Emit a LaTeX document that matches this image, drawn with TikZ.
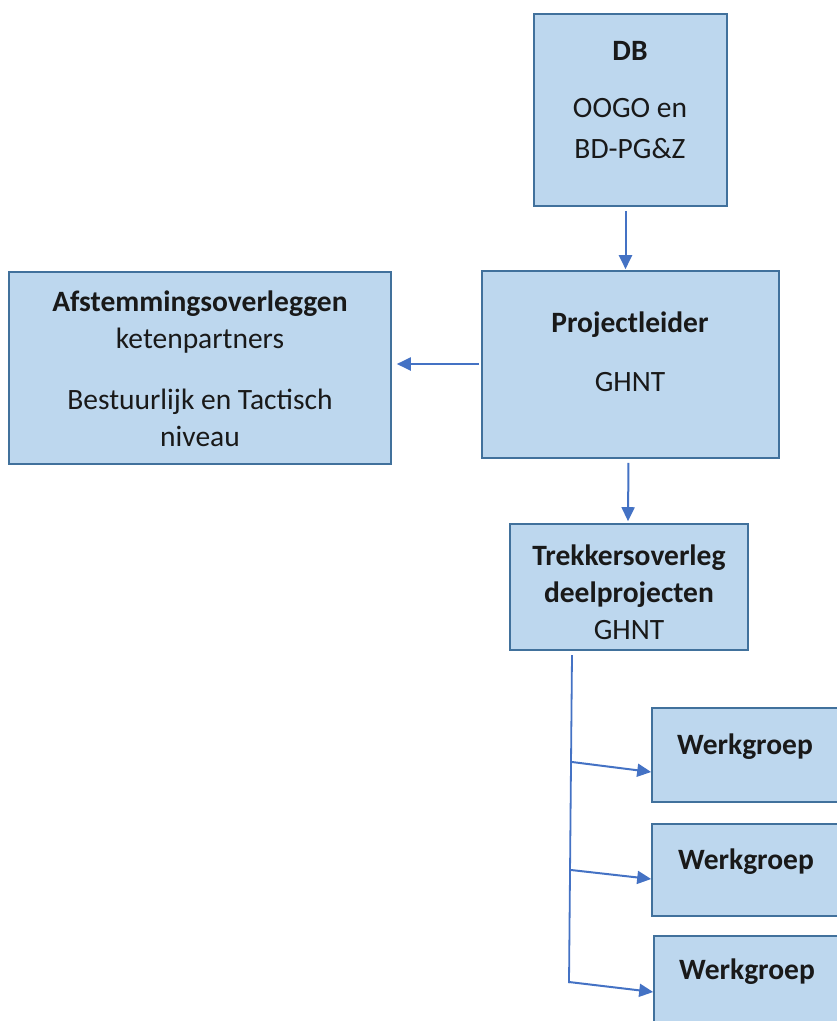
\documentclass[tikz,border=0pt]{standalone}
\usepackage{fontspec}
\setmainfont{Carlito}
\usepackage{tikz}
\usetikzlibrary{arrows.meta,calc}
\definecolor{boxfill}{HTML}{BDD7EE}
\definecolor{boxline}{HTML}{41719C}
\definecolor{linkblue}{HTML}{4472C4}

\begin{document}
\begin{tikzpicture}[x=1pt,y=-1pt]
\tikzset{
	box node/.style = {rectangle, draw = boxline, fill = boxfill, line width = 1.6, inner sep = 0},
	label node/.style = {align = center, font = \fontsize{29.5}{37}\selectfont, text = black!90, inner sep = 0},
	link/.style = {draw = linkblue, line width = 2, -{Triangle[length=14,width=13]}},
}
\useasboundingbox (0,0) rectangle (837,1021);
\clip (0,0) rectangle (837,1021);

% boxes
\node(db)[box node, minimum width = 193, minimum height = 192] at (630.5,110) {};
\node(pl)[box node, minimum width = 297, minimum height = 187] at (630.5,364.5) {};
\node(af)[box node, minimum width = 382, minimum height = 192] at (200,368) {};
\node(tr)[box node, minimum width = 238, minimum height = 126] at (629,587) {};
\node(wg1)[box node, minimum width = 190, minimum height = 94] at (747,755) {};
\node(wg2)[box node, minimum width = 190, minimum height = 92] at (747,870) {};
\node(wg3)[box node, minimum width = 190, minimum height = 100] at (749,986) {};

% texts
\node(dbtext)[label node] at (630,100) {\textbf{DB}\\[20pt]OOGO en\\[4pt]BD-PG\&Z};
\node(pltext)[label node] at (630,352) {\textbf{Projectleider}\\[22pt]GHNT};
\node(aftext)[label node] at (200,369) {\textbf{Afstemmingsoverleggen}\\ketenpartners\\[24pt]Bestuurlijk en Tactisch\\niveau};
\node(trtext)[label node] at (629,592) {\textbf{Trekkersoverleg}\\\textbf{deelprojecten}\\GHNT};
\node(wg1text)[label node] at (745,747) {\textbf{Werkgroep}};
\node(wg2text)[label node] at (746,862) {\textbf{Werkgroep}};
\node(wg3text)[label node] at (747,972) {\textbf{Werkgroep}};

% connectors
\draw [link, shorten <= 4, shorten >= 1] ([xshift=-5]db.south) to ([xshift=-5]pl.north);
\draw [link, shorten <= 2, shorten >= 5] (pl.west |- 0,364) to (af.east |- 0,364);
\draw [link, shorten <= 4, shorten >= 2] ([xshift=-2]pl.south) to ([xshift=-1]tr.south |- tr.north);

\coordinate (bustop) at (572,655);
\coordinate (busbot) at (569,983);
\coordinate (br1) at (572,762);
\coordinate (br2) at (571,870);
\coordinate (br3) at (569,982);
\draw [draw = linkblue, line width = 1.8] (bustop) to (busbot);
\draw [link] (br1) to (wg1.west |- 0,772);
\draw [link] (br2) to (wg2.west |- 0,879);
\draw [link] (br3) to (wg3.west |- 0,992);

\end{tikzpicture}
\end{document}
